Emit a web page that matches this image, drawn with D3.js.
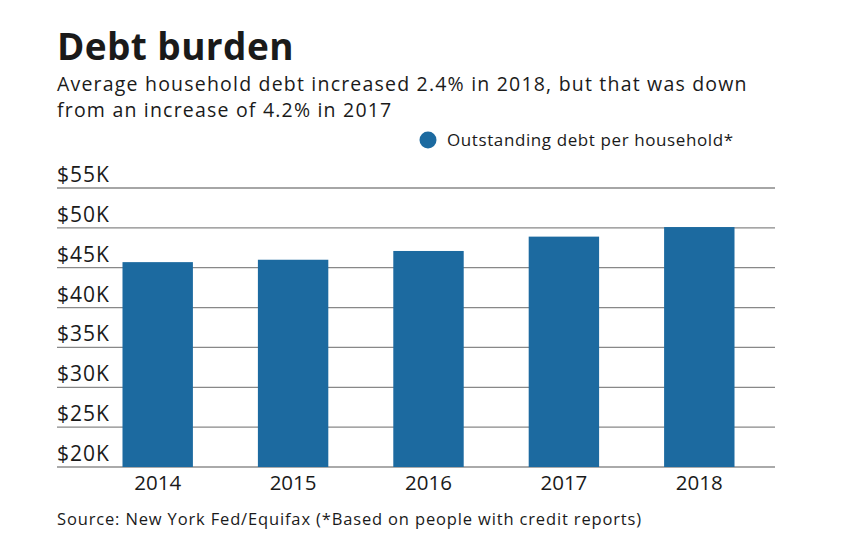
<!DOCTYPE html>
<html>
<head>
<meta charset="utf-8">
<script src="https://cdn.jsdelivr.net/npm/d3@7"></script>
<style>
  body { margin: 0; background: #fff; }
  text { font-family: "Open Sans", Lato, sans-serif; fill: #1a1a1a; }
</style>
</head>
<body>
<div id="chart"></div>
<script>
const years = ['2014', '2015', '2016', '2017', '2018'];
const debtK = [45.7, 46.0, 47.1, 48.9, 50.1];
const yTicks = [20, 25, 30, 35, 40, 45, 50, 55];

const width = 844;
const height = 550;
const barColor = '#1c6aa0';

const svg = d3.select('#chart')
    .append('svg')
    .attr('width', width)
    .attr('height', height);

// headings
svg.append('text')
    .attr('x', 57).attr('y', 60)
    .style('font-size', '37px').style('font-weight', 700)
    .style('letter-spacing', '0.4px')
    .text('Debt burden');

svg.append('text')
    .attr('x', 57).attr('y', 91)
    .style('font-size', '19.5px')
    .style('letter-spacing', '1.2px')
    .text('Average household debt increased 2.4% in 2018, but that was down');

svg.append('text')
    .attr('x', 57).attr('y', 117)
    .style('font-size', '19.5px')
    .style('letter-spacing', '1.2px')
    .text('from an increase of 4.2% in 2017');

// legend
svg.append('circle')
    .attr('cx', 428).attr('cy', 140).attr('r', 8.5)
    .attr('fill', barColor);
svg.append('text')
    .attr('x', 447).attr('y', 146)
    .style('font-size', '17px')
    .style('letter-spacing', '0.6px')
    .text('Outstanding debt per household*');

const x = d3.scaleBand()
    .domain(years)
    .range([90, 767])
    .paddingInner(0.48)
    .paddingOuter(0.24);

const y = d3.scaleLinear()
    .domain([20, 55])
    .range([467, 188]);

// gridlines
svg.append('g')
    .selectAll('line')
    .data(yTicks)
    .enter()
    .append('line')
    .attr('x1', 57).attr('x2', 775)
    .attr('y1', d => y(d)).attr('y2', d => y(d))
    .attr('stroke', d => d === 20 ? '#aaa' : '#888')
    .attr('stroke-width', d => d === 20 ? 2 : 1.3);

// bars
svg.append('g')
    .selectAll('rect')
    .data(years)
    .enter()
    .append('rect')
    .attr('x', d => x(d))
    .attr('width', x.bandwidth())
    .attr('y', (d, i) => y(debtK[i]))
    .attr('height', (d, i) => y(20) - y(debtK[i]))
    .attr('fill', barColor);

// y labels
svg.append('g')
    .selectAll('text')
    .data(yTicks)
    .enter()
    .append('text')
    .attr('x', 57)
    .attr('y', d => y(d) - 6)
    .style('font-size', '21px')
    .style('letter-spacing', '1px')
    .text(d => '$' + d + 'K');

// x labels
svg.append('g')
    .selectAll('text')
    .data(years)
    .enter()
    .append('text')
    .attr('x', d => x(d) + x.bandwidth() / 2)
    .attr('y', 490)
    .attr('text-anchor', 'middle')
    .style('font-size', '20.5px')
    .text(d => d);

svg.append('text')
    .attr('x', 57).attr('y', 525)
    .style('font-size', '16.5px')
    .style('letter-spacing', '0.85px')
    .text('Source: New York Fed/Equifax (*Based on people with credit reports)');
</script>
</body>
</html>
